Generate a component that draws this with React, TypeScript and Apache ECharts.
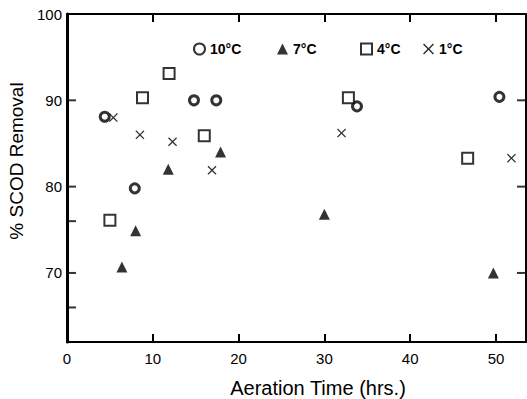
import React, { useEffect, useRef } from "react";
import * as echarts from "echarts";

const seriesNames = ["10°C", "7°C", "4°C", "1°C"];

const time10 = [4.4, 7.9, 14.8, 17.4, 33.8, 50.4];
const removal10 = [88.1, 79.8, 90.0, 90.0, 89.3, 90.4];

const time7 = [6.4, 8.0, 11.8, 17.9, 30.0, 49.7];
const removal7 = [70.7, 74.9, 82.0, 84.0, 76.8, 70.0];

const time4 = [5.0, 8.8, 11.9, 16.0, 32.8, 46.7];
const removal4 = [76.1, 90.3, 93.1, 85.9, 90.3, 83.3];

const time1 = [5.4, 8.5, 12.3, 16.9, 32.0, 51.8];
const removal1 = [88.0, 86.0, 85.2, 81.9, 86.2, 83.3];

const leftTickValues = [66, 70, 76, 80, 90, 100];
const rightTickValues = [70, 80, 90];

const X_MIN = 0;
const X_MAX = 53.5;
const Y_MIN = 62;
const Y_MAX = 100;

const pair = (xs: number[], ys: number[]) => xs.map((x, i) => [x, ys[i]]);

const INK = "#000";
const FONT = "'Liberation Sans', Arial, sans-serif";
const crossPath =
  "path://M1,0 L5,4 L9,0 L10,1 L6,5 L10,9 L9,10 L5,6 L1,10 L0,9 L4,5 L0,1 Z";

export default function App() {
  const ref = useRef<HTMLDivElement>(null);
  useEffect(() => {
    if (!ref.current) return;
    const chart = echarts.init(ref.current, undefined, { renderer: "svg" });
    const legendLefts = [188, 272, 355, 418];
    const tickSeries = (xVal: number, vals: number[], offset: number) => ({
      type: "scatter",
      data: vals.map((v) => [xVal, v]),
      symbol: "rect",
      symbolSize: [8, 2],
      symbolOffset: [offset, 0],
      clip: false,
      silent: true,
      z: 5,
      itemStyle: { color: INK },
      emphasis: { disabled: true },
    });
    chart.setOption({
      animation: false,
      backgroundColor: "#fff",
      textStyle: { fontFamily: FONT, color: INK },
      legend: seriesNames.map((n, i) => ({
        data: [n],
        left: legendLefts[i],
        top: 37,
        itemWidth: 11,
        itemHeight: 11,
        selectedMode: false,
        textStyle: { fontFamily: FONT, fontSize: 14, fontWeight: "bold", color: INK },
      })),
      grid: {
        left: 67,
        right: 1,
        top: 14,
        bottom: 57,
        containLabel: false,
        outerBoundsMode: "none",
      },
      xAxis: [
        {
          type: "value",
          position: "bottom",
          min: X_MIN,
          max: X_MAX,
          interval: 10,
          name: "Aeration Time (hrs.)",
          nameLocation: "middle",
          nameGap: 36,
          nameTextStyle: { fontSize: 20, color: INK, padding: [0, 0, 0, 43] },
          axisLine: { show: true, onZero: false, lineStyle: { color: INK, width: 2 } },
          axisTick: { show: true, inside: true, length: 8, lineStyle: { color: INK, width: 2 } },
          axisLabel: { fontSize: 15, color: INK, margin: 9, showMaxLabel: false },
          splitLine: { show: false },
        },
        {
          type: "value",
          position: "top",
          min: X_MIN,
          max: X_MAX,
          interval: 10,
          axisLine: { show: true, onZero: false, lineStyle: { color: INK, width: 2 } },
          axisTick: { show: true, inside: true, length: 8, lineStyle: { color: INK, width: 2 } },
          axisLabel: { show: false },
          splitLine: { show: false },
        },
      ],
      yAxis: [
        {
          type: "value",
          position: "left",
          min: Y_MIN,
          max: Y_MAX,
          interval: 2,
          name: "% SCOD Removal",
          nameLocation: "middle",
          nameRotate: 90,
          nameGap: 38,
          nameTextStyle: { fontSize: 19, color: INK, padding: [0, 0, 0, 34] },
          axisLine: { show: true, onZero: false, lineStyle: { color: INK, width: 3 } },
          axisTick: { show: false },
          axisLabel: {
            fontSize: 15,
            color: INK,
            margin: 5,
            formatter: (v: number) => (v % 10 === 0 ? String(v) : ""),
          },
          splitLine: { show: false },
        },
        {
          type: "value",
          position: "right",
          min: Y_MIN,
          max: Y_MAX,
          interval: 2,
          axisLine: { show: true, onZero: false, lineStyle: { color: INK, width: 2 } },
          axisTick: { show: false },
          axisLabel: { show: false },
          splitLine: { show: false },
        },
      ],
      series: [
        {
          name: seriesNames[0],
          type: "scatter",
          data: pair(time10, removal10),
          symbol: "circle",
          symbolSize: 9,
          itemStyle: { color: "#fff", borderColor: INK, borderWidth: 3 },
          emphasis: { disabled: true },
        },
        {
          name: seriesNames[1],
          type: "scatter",
          data: pair(time7, removal7),
          symbol: "triangle",
          symbolSize: 11,
          itemStyle: { color: INK },
          emphasis: { disabled: true },
        },
        {
          name: seriesNames[2],
          type: "scatter",
          data: pair(time4, removal4),
          symbol: "rect",
          symbolSize: 11,
          itemStyle: { color: "#fff", borderColor: INK, borderWidth: 2 },
          emphasis: { disabled: true },
        },
        {
          name: seriesNames[3],
          type: "scatter",
          data: pair(time1, removal1),
          symbol: crossPath,
          symbolSize: 9,
          itemStyle: { color: INK },
          emphasis: { disabled: true },
        },
        tickSeries(X_MIN, leftTickValues, 5),
        tickSeries(X_MAX, rightTickValues, -5),
      ],
    });
    return () => chart.dispose();
  }, []);
  return (
    <div
      ref={ref}
      style={{ position: "fixed", left: 0, top: 0, width: 527, height: 399, background: "#fff" }}
    />
  );
}
